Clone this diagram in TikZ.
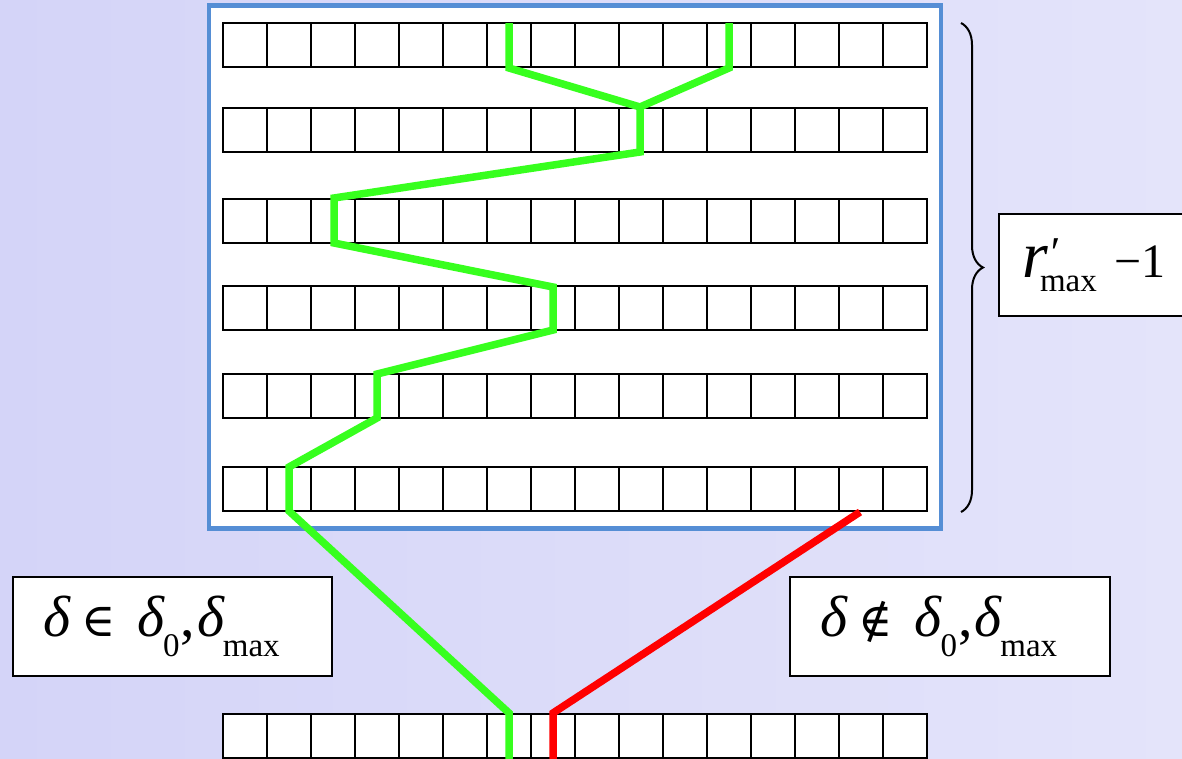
\documentclass[tikz,border=0pt]{standalone}
\usepackage{fontspec}
\setmainfont{Liberation Serif}
\newfontfamily\symf{DejaVu Serif}[Scale=0.8]
\usetikzlibrary{decorations.pathreplacing}
\definecolor{bgl}{RGB}{212,212,248}
\definecolor{bgr}{RGB}{228,228,250}
\definecolor{frameblue}{RGB}{85,142,213}
\definecolor{pathgreen}{RGB}{55,255,30}
\definecolor{pathred}{RGB}{255,0,0}
\newcommand{\dlt}{\textit{δ}}
\newcommand{\lowsub}[2][-20pt]{\raisebox{#1}{\fontsize{33}{33}\selectfont #2}}
\tikzset{
  rowbox/.style={draw, line width=1.6pt, fill=white, inner sep=0pt,
    minimum width=704pt, minimum height=44pt,
    path picture={\foreach \i in {1,...,15}
      \draw[line width=1.6pt] ([xshift={44*\i pt}]path picture bounding box.north west)
        -- ([xshift={44*\i pt}]path picture bounding box.south west);}},
  labelbox/.style={draw, line width=1.5pt, fill=white, inner sep=0pt},
  greenpath/.style={draw=pathgreen, line width=7.5pt},
  redpath/.style={draw=pathred, line width=7.5pt},
}
\begin{document}
\begin{tikzpicture}[x=1pt,y=-1pt]
\useasboundingbox (0,0) rectangle (1182,758);
\clip (0,0) rectangle (1182,758);
\shade[left color=bgl,right color=bgr] (0,0) rectangle (1182,758);

% frame
\node[draw=frameblue, line width=4.5pt, fill=white, inner sep=0pt,
      minimum width=732pt, minimum height=523pt] (frame) at (575,267) {};

% rows
\foreach \nm/\y in {r1/23,r2/108,r3/199,r4/286,r5/374,r6/467,r0/714}
  \node[rowbox] (\nm) at (575,\y+22) {};

% green path coordinates
\coordinate (a1) at (509,23);  \coordinate (a2) at (509,68);
\coordinate (b1) at (729,23);  \coordinate (b2) at (729,68);
\coordinate (j)  at (640,107); \coordinate (p2) at (640,152);
\coordinate (p3a) at (334,198); \coordinate (p3b) at (334,243);
\coordinate (p4a) at (553,287); \coordinate (p4b) at (553,330);
\coordinate (p5a) at (377,374); \coordinate (p5b) at (377,418);
\coordinate (p6a) at (289,467); \coordinate (p6b) at (289,511);
\coordinate (q1) at (509,713); \coordinate (q2) at (509,762);
\coordinate (s1) at (860,512); \coordinate (s2) at (553,713); \coordinate (s3) at (553,762);

\draw[greenpath] (a1) -- (a2) -- (j);
\draw[greenpath] (b1) -- (b2) -- (j);
\draw[greenpath] (j) -- (p2) -- (p3a) -- (p3b) -- (p4a) -- (p4b) -- (p5a) -- (p5b)
   -- (p6a) -- (p6b) -- (q1) -- (q2);
\draw[redpath] (s1) -- (s2) -- (s3);

% brace
\coordinate (bt) at (961,23); \coordinate (bb) at (961,512);
\draw[decorate, decoration={brace, amplitude=22pt}, line width=2pt] (bt) -- (bb);

% labels
\node[labelbox, minimum width=319pt, minimum height=99pt] (lin) at (172.5,626.5)
  {\fontsize{58}{60}\selectfont\dlt\hspace{10pt}{\symf ∈}\hspace{22pt}\dlt\kern-2pt\lowsub{0}\kern1pt,\kern2pt\dlt\kern-2pt\lowsub{max}\hspace*{22pt}};
\node[labelbox, minimum width=320pt, minimum height=99pt] (lout) at (950,626.5)
  {\fontsize{58}{60}\selectfont\dlt\hspace{10pt}{\symf ∉}\hspace{22pt}\dlt\kern-2pt\lowsub{0}\kern1pt,\kern2pt\dlt\kern-2pt\lowsub{max}\hspace*{22pt}};
\node[labelbox, minimum width=200pt, minimum height=102pt] (rlab) at (1099,265)
  {\hspace*{-10pt}\fontsize{66}{68}\selectfont\textit{r}\rlap{\raisebox{10pt}{\fontsize{44}{44}\selectfont\textit{′}}}\kern-8pt\lowsub[-14pt]{max}\hspace{18pt}{\fontsize{48}{48}\selectfont −1}};
\end{tikzpicture}
\end{document}
